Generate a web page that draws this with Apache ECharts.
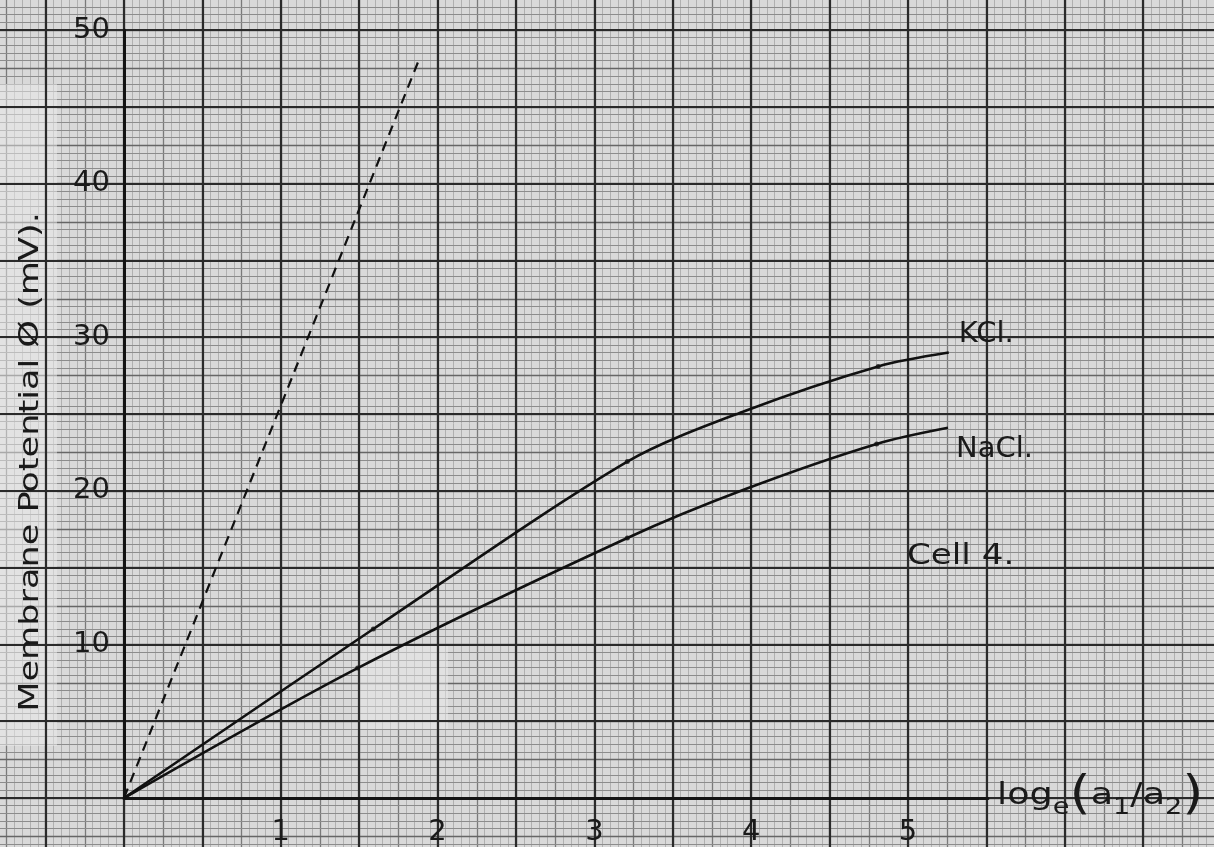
<!DOCTYPE html>
<html>
<head>
<meta charset="utf-8">
<script src="https://cdn.jsdelivr.net/npm/echarts@6/dist/echarts.min.js"></script>
<style>
html,body{margin:0;padding:0;background:#d9d9d9;}
#c{width:1214px;height:847px;}
</style>
</head>
<body>
<div id="c"></div>
<script>
// ---- data ----
const kclX = [0, 1.59, 3.21, 3.96, 4.81, 5.26];
const kclY = [0, 11.0, 21.9, 25.2, 28.1, 29.0];
const naclX = [0, 1.49, 3.21, 3.96, 4.80, 5.255];
const naclY = [0, 8.46, 16.93, 20.1, 23.05, 24.1];
const kclPtsX = [1.59, 3.21, 4.81];
const kclPtsY = [11.0, 21.9, 28.1];
const naclPtsX = [1.49, 3.21, 4.80];
const naclPtsY = [8.46, 16.93, 23.05];
const theoryX = [0, 1.888];
const theoryY = [0, 48.24];
const xTicks = [1, 2, 3, 4, 5];
const yTicks = [10, 20, 30, 40, 50];
const seriesNames = ['KCl.', 'NaCl.'];
const noteText = 'Cell 4.';
const yTitle = 'Membrane Potential Ø (mV).';

const zip = (a, b) => a.map((v, i) => [v, b[i]]);

// ---- layout ----
const FONT = '"DejaVu Sans", sans-serif';
const X0 = 124, Y0 = 798, PX = 156.8, PY = 15.36;
const xMaxMain = 5.51, yMaxMain = 50;
const bgX = [-1, 7.5], bgY = [-5, 55];

const chart = echarts.init(document.getElementById('c'));

const hidden = {axisLine:{show:false}, axisTick:{show:false}, axisLabel:{show:false}};

const option = {
  backgroundColor: '#d9d9d9',
  animation: false,
  grid: [
    { // graph paper
      left: X0 + bgX[0]*PX, top: Y0 - bgY[1]*PY,
      width: (bgX[1]-bgX[0])*PX, height: (bgY[1]-bgY[0])*PY,
      outerBoundsMode: 'none', containLabel: false
    },
    { // plotting frame
      left: X0, top: Y0 - yMaxMain*PY,
      width: xMaxMain*PX, height: yMaxMain*PY,
      outerBoundsMode: 'none', containLabel: false
    }
  ],
  xAxis: [
    {
      type: 'value', gridIndex: 1, min: 0, max: xMaxMain, interval: 1, z: 3,
      axisLine: {show: true, lineStyle: {color: '#141414', width: 3}},
      axisTick: {show: false},
      splitLine: {show: false},
      axisLabel: {
        show: true, margin: 20, fontSize: 29, fontFamily: FONT, color: '#1a1a1a',
        formatter: v => xTicks.includes(v) ? String(v) : ''
      }
    },
    Object.assign({type:'value', gridIndex:0, min:bgX[0], max:bgX[1], interval:0.25, z: 0,
      splitLine:{show:true, lineStyle:{color:'#7a7a7a', width:1.3}},
      minorTick:{show:false, splitNumber:5},
      minorSplitLine:{show:true, lineStyle:{color:'#b0b0b0', width:1}}
    }, hidden),
    Object.assign({type:'value', gridIndex:0, min:bgX[0], max:bgX[1], interval:0.5, z: 2,
      splitLine:{show:true, lineStyle:{color:'#2a2a2a', width:2.2}}
    }, hidden)
  ],
  yAxis: [
    {
      type: 'value', gridIndex: 1, min: 0, max: yMaxMain, interval: 10, z: 3,
      axisLine: {show: true, lineStyle: {color: '#141414', width: 3}},
      axisTick: {show: false},
      splitLine: {show: false},
      axisLabel: {
        show: true, margin: 14, fontSize: 29, fontFamily: FONT, color: '#1a1a1a',
        formatter: v => yTicks.includes(v) ? String(v) : ''
      }
    },
    Object.assign({type:'value', gridIndex:0, min:bgY[0], max:bgY[1], interval:2.5, z: 1,
      splitLine:{show:true, lineStyle:{color:'#666', width:1.4}},
      minorTick:{show:false, splitNumber:5},
      minorSplitLine:{show:true, lineStyle:{color:'#8c8c8c', width:1}}
    }, hidden),
    Object.assign({type:'value', gridIndex:0, min:bgY[0], max:bgY[1], interval:5, z: 2,
      splitLine:{show:true, lineStyle:{color:'#2a2a2a', width:2.2}}
    }, hidden)
  ],
  graphic: [
    {type:'rect', z: 2, shape:{x:0, y:84, width:57, height:662},
      style:{fill:'rgba(236,236,236,0.5)'}},
    {type:'rect', z: 2, shape:{x:360, y:645, width:88, height:84},
      style:{fill:'rgba(236,236,236,0.45)'}},
    {type:'text', z: 5, x: 31, y: 462, rotation: Math.PI/2, scaleX: 1.3,
      style:{text: yTitle, font: '27px ' + FONT, fill:'#1a1a1a', align:'center', verticalAlign:'middle'}},
    {type:'text', z: 5, x: 907, y: 557, scaleX: 1.22,
      style:{text: noteText, font: '28px ' + FONT, fill:'#1a1a1a', align:'left', verticalAlign:'middle'}},
    {type:'text', z: 5, x: 997, y: 796, scaleX: 1.18,
      style:{
        text: '{t|log}{s|e}{p|(}{t|a}{s|1}{t|/a}{s|2}{p|)}',
        verticalAlign: 'middle', align: 'left',
        rich: {
          t: {fontSize: 31, fontFamily: FONT, fill: '#1a1a1a', lineHeight: 48, verticalAlign: 'middle'},
          s: {fontSize: 23, fontFamily: FONT, fill: '#1a1a1a', lineHeight: 48, verticalAlign: 'bottom'},
          p: {fontSize: 46, fontFamily: FONT, fill: '#1a1a1a', lineHeight: 48, verticalAlign: 'middle'}
        }
      }}
  ],
  series: [
    {
      name: seriesNames[0], type: 'line', xAxisIndex: 0, yAxisIndex: 0,
      data: zip(kclX, kclY), smooth: 0.3, symbol: 'none',
      lineStyle: {color: '#111', width: 2.6}, z: 4,
      endLabel: {show: true, formatter: seriesNames[0], fontSize: 29, fontFamily: FONT,
        color: '#1a1a1a', offset: [2, -18]}
    },
    {
      name: seriesNames[1], type: 'line', xAxisIndex: 0, yAxisIndex: 0,
      data: zip(naclX, naclY), smooth: 0.3, symbol: 'none',
      lineStyle: {color: '#111', width: 2.6}, z: 4,
      endLabel: {show: true, formatter: seriesNames[1], fontSize: 29, fontFamily: FONT,
        color: '#1a1a1a', offset: [0, 22]}
    },
    {
      type: 'line', xAxisIndex: 0, yAxisIndex: 0, data: zip(theoryX, theoryY),
      symbol: 'none', lineStyle: {color: '#111', width: 2.2, type: [10, 7]}, z: 4
    },
    {
      type: 'scatter', xAxisIndex: 0, yAxisIndex: 0,
      data: zip(kclPtsX, kclPtsY).concat(zip(naclPtsX, naclPtsY)),
      symbol: 'circle', symbolSize: 5, itemStyle: {color: '#111'}, z: 5
    }
  ]
};
chart.setOption(option);
</script>
</body>
</html>
